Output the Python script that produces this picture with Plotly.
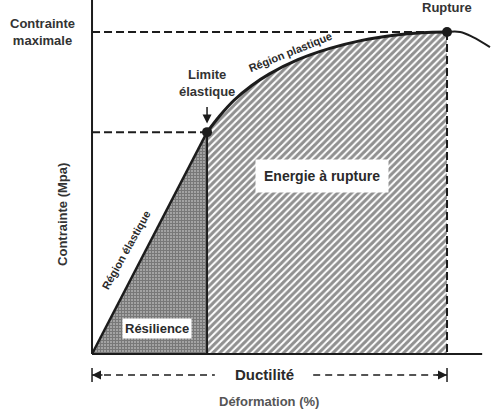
import plotly.graph_objects as go

# ---- data (arbitrary normalised units: strain %, stress) ----
origin = (0.0, 0.0)
elastic_limit = (32.4, 68.9)          # Limite élastique
rupture = (100.0, 100.0)              # Rupture / contrainte maximale
plastic_x = [32.4, 36.0, 40.0, 45.0, 50.0, 58.0, 67.0, 76.0, 85.0, 93.0, 100.0]
plastic_y = [68.9, 74.0, 78.8, 83.4, 87.0, 91.4, 94.9, 97.4, 99.0, 99.8, 100.0]
after_x = [100.0, 103.7, 107.3, 112.1]
after_y = [100.0, 100.0, 98.4, 95.3]

X_RANGE = [-25.92, 112.39]
Y_RANGE = [-19.88, 109.94]
AXIS_X_END = 109.9
DUCT_Y = -6.52

INK = "#1c1c1c"
TXT = "#333333"
FONT = "Liberation Sans, Arial, sans-serif"

fig = go.Figure()

# Résilience (cross-hatched triangle)
fig.add_trace(go.Scatter(
    x=[origin[0], elastic_limit[0], elastic_limit[0], origin[0]],
    y=[origin[1], elastic_limit[1], 0, origin[1]],
    fill="toself", mode="none", fillcolor="white",
    fillpattern=dict(shape="+", size=3, solidity=0.7, fgcolor="#333333", bgcolor="#bdbdbd"),
    hoverinfo="skip", showlegend=False))

# Energie à rupture (hatched plastic region)
fig.add_trace(go.Scatter(
    x=plastic_x + [rupture[0], elastic_limit[0]],
    y=plastic_y + [0, 0],
    fill="toself", mode="none", fillcolor="white",
    fillpattern=dict(shape="/", size=5, solidity=0.6, fgcolor="#222222", bgcolor="white"),
    hoverinfo="skip", showlegend=False))

# dashed guide lines
dash = "8px,4px"
fig.add_trace(go.Scatter(x=[0, rupture[0]], y=[rupture[1], rupture[1]], mode="lines",
                         line=dict(color=INK, width=2, dash=dash), hoverinfo="skip", showlegend=False))
fig.add_trace(go.Scatter(x=[0, elastic_limit[0]], y=[elastic_limit[1], elastic_limit[1]], mode="lines",
                         line=dict(color=INK, width=2, dash=dash), hoverinfo="skip", showlegend=False))
fig.add_trace(go.Scatter(x=[rupture[0], rupture[0]], y=[rupture[1], 0], mode="lines",
                         line=dict(color=INK, width=2, dash=dash), hoverinfo="skip", showlegend=False))
# vertical separator at elastic limit
fig.add_trace(go.Scatter(x=[elastic_limit[0], elastic_limit[0]], y=[elastic_limit[1], 0], mode="lines",
                         line=dict(color=INK, width=2), hoverinfo="skip", showlegend=False))

# axes
fig.add_trace(go.Scatter(x=[0, 0], y=[Y_RANGE[1], 0], mode="lines",
                         line=dict(color=INK, width=2), hoverinfo="skip", showlegend=False))
fig.add_trace(go.Scatter(x=[0, AXIS_X_END], y=[0, 0], mode="lines",
                         line=dict(color=INK, width=2), hoverinfo="skip", showlegend=False))

# stress-strain curve
fig.add_trace(go.Scatter(x=[origin[0], elastic_limit[0]], y=[origin[1], elastic_limit[1]], mode="lines",
                         line=dict(color=INK, width=2.5), hoverinfo="skip", showlegend=False))
fig.add_trace(go.Scatter(x=plastic_x, y=plastic_y, mode="lines", line_shape="spline",
                         line=dict(color=INK, width=3), hoverinfo="skip", showlegend=False))
fig.add_trace(go.Scatter(x=after_x, y=after_y, mode="lines", line_shape="spline",
                         line=dict(color=INK, width=2), hoverinfo="skip", showlegend=False))
fig.add_trace(go.Scatter(x=[elastic_limit[0], rupture[0]], y=[elastic_limit[1], rupture[1]], mode="markers",
                         marker=dict(color=INK, size=10), hoverinfo="skip", showlegend=False))

# ductility dashed arrow
fig.add_trace(go.Scatter(x=[0, 34.6], y=[DUCT_Y, DUCT_Y], mode="lines",
                         line=dict(color=INK, width=1.5, dash="7px,5px"), hoverinfo="skip", showlegend=False))
fig.add_trace(go.Scatter(x=[62.3, rupture[0]], y=[DUCT_Y, DUCT_Y], mode="lines",
                         line=dict(color=INK, width=1.5, dash="7px,5px"), hoverinfo="skip", showlegend=False))
for xb in (0, rupture[0]):
    fig.add_trace(go.Scatter(x=[xb, xb], y=[DUCT_Y + 2.2, DUCT_Y - 2.2], mode="lines",
                             line=dict(color=INK, width=1.5), hoverinfo="skip", showlegend=False))

ann = []
def txt(x, y, s, size=13, color=TXT, angle=0, **kw):
    ann.append(dict(x=x, y=y, text=s, showarrow=False, textangle=angle,
                    font=dict(family=FONT, size=size, color=color), **kw))

# arrowheads for ductility
ann.append(dict(x=0, y=DUCT_Y, ax=12, ay=0, text="", showarrow=True, arrowhead=2,
                arrowsize=1.2, arrowwidth=1.5, arrowcolor=INK))
ann.append(dict(x=rupture[0], y=DUCT_Y, ax=-12, ay=0, text="", showarrow=True, arrowhead=2,
                arrowsize=1.2, arrowwidth=1.5, arrowcolor=INK))
# arrow to elastic limit
ann.append(dict(x=elastic_limit[0], y=71.6, ax=0, ay=-18, text="", showarrow=True, arrowhead=2,
                arrowsize=1.2, arrowwidth=1.5, arrowcolor=INK))

txt(-14.08, 100.0, "<b>Contrainte<br>maximale</b>", size=13)
txt(elastic_limit[0], 84.2, "<b>Limite<br>élastique</b>", size=13)
txt(rupture[0], 107.6, "<b>Rupture</b>", size=13)
txt(-8.17, 43.2, "<b>Contrainte (Mpa)</b>", size=13, angle=-90)
txt(48.5, DUCT_Y, "<b>Ductilité</b>", size=15, color="#2a2a2a")
txt(49.8, -14.6, "<b>Déformation (%)</b>", size=13, color="#555555")
txt(55.8, 93.8, "<b>Région plastique</b>", size=11, color="#2a2a2a", angle=-22)
txt(9.6, 32.3, "<b>Région élastique</b>", size=11, color="#2a2a2a", angle=-61)
txt(64.8, 55.3, "<b>Energie à rupture</b>", size=14, color="#2a2a2a",
    bgcolor="white", borderpad=8)
txt(18.3, 7.8, "<b>Résilience</b>", size=13, color="#2a2a2a",
    bgcolor="white", borderpad=2)

fig.update_layout(
    width=491, height=418, margin=dict(l=0, r=0, t=0, b=0),
    paper_bgcolor="white", plot_bgcolor="white",
    xaxis=dict(range=X_RANGE, visible=False, fixedrange=True),
    yaxis=dict(range=Y_RANGE, visible=False, fixedrange=True),
    annotations=ann, showlegend=False,
)
fig.write_html("out.html")
